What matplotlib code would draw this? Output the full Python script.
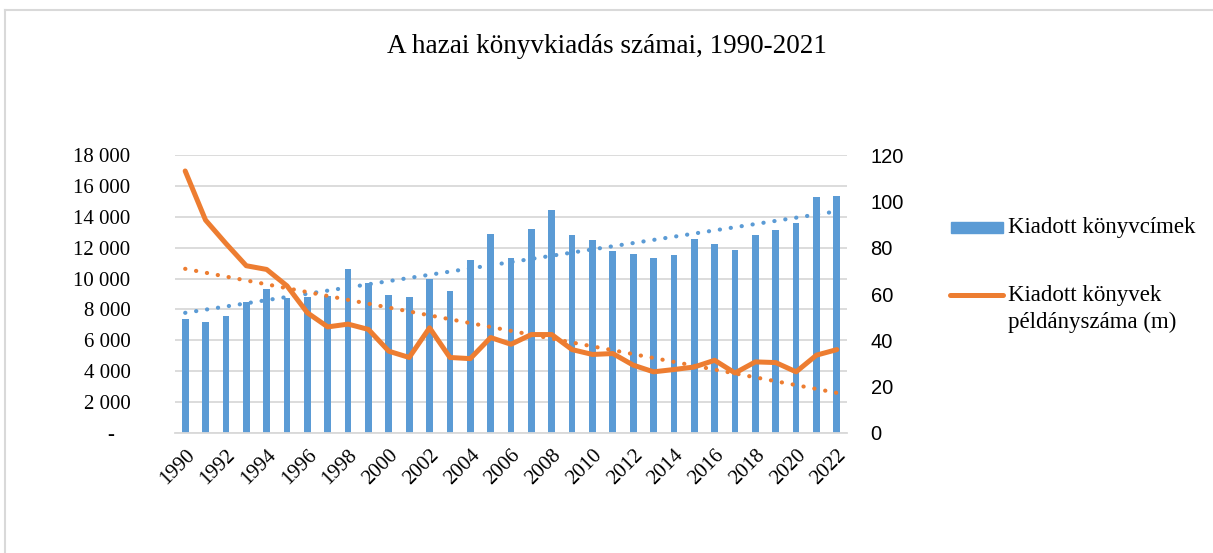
import numpy as np
import matplotlib
matplotlib.use('Agg')
import matplotlib.pyplot as plt
from matplotlib.lines import Line2D
from matplotlib.patches import Rectangle
from matplotlib.ticker import FuncFormatter

years = list(range(1990, 2023))

# kiadott könyvcímek (db)
titles = [7400, 7200, 7600, 8450, 9350, 8750, 8800, 8900, 10600, 9700,
          8950, 8800, 9950, 9200, 11200, 12900, 11350, 13200, 14450, 12800,
          12500, 11800, 11600, 11350, 11550, 12550, 12250, 11850, 12850, 13150,
          13600, 15250, 15350]

# kiadott példányszám (millió)
copies = [113.1, 91.9, 81.8, 72.2, 70.6, 63.5, 51.9, 45.8, 47.0, 44.7,
          35.3, 32.6, 45.4, 32.6, 32.1, 41.2, 38.3, 42.5, 42.5, 36.0,
          33.9, 34.3, 29.3, 26.4, 27.4, 28.5, 31.4, 25.9, 30.7, 30.4,
          26.4, 33.6, 36.0]

blue = '#5b9bd5'
orange = '#ed7d31'
serif = ['Liberation Serif', 'DejaVu Serif']
sans = ['Liberation Sans', 'DejaVu Sans']

fig = plt.figure(figsize=(12.13, 5.53), dpi=100)
ax = fig.add_axes([175/1213, 1-433/553, (847-175)/1213, (433-155)/553])
ax2 = ax.twinx()

x = np.arange(len(years))
ax.bar(x, titles, width=0.33, color=blue, zorder=2)

# linear trendlines
k1 = np.polyfit(x, titles, 1)
ax.plot(x, np.polyval(k1, x), color=blue, lw=3.0, linestyle=(0, (0.05, 2.6)),
        dash_capstyle='round', zorder=3)
k2 = np.polyfit(x, copies, 1)
ax2.plot(x, np.polyval(k2, x), color=orange, lw=3.0, linestyle=(0, (0.05, 2.6)),
         dash_capstyle='round', zorder=3)
ax2.plot(x, copies, color=orange, lw=3.6, solid_capstyle='round',
         solid_joinstyle='round', zorder=4)

ax.set_xlim(-0.5, len(years) - 0.5)
ax.set_ylim(0, 18000)
ax2.set_ylim(0, 120)
ax.set_yticks(range(0, 18001, 2000))
ax2.set_yticks(range(0, 121, 20))
ax.yaxis.set_major_formatter(FuncFormatter(
    lambda v, p: '-   ' if v == 0 else f'{int(v):,}'.replace(',', ' ')))

ax.grid(axis='y', color='#d9d9d9', lw=1.3, zorder=0)
ax.set_axisbelow(True)
for a in (ax, ax2):
    for s in a.spines.values():
        s.set_visible(False)
ax.spines['bottom'].set_visible(True)
ax.spines['bottom'].set_color('#d9d9d9')
ax.spines['bottom'].set_linewidth(1.3)

ax.set_xticks(x[::2])
ax.set_xticklabels([str(y) for y in years[::2]], rotation=45, ha='right',
                   va='top', rotation_mode='anchor', fontfamily=serif, fontsize=15)
ax.tick_params(axis='x', length=0, pad=9)
ax.tick_params(axis='y', length=0, pad=32, labelsize=15)
for t in ax.get_yticklabels():
    t.set_fontfamily(serif)
ax2.tick_params(axis='y', length=0, pad=17, labelsize=14.5)
for t in ax2.get_yticklabels():
    t.set_fontfamily(sans)

fig.text(0.5, 1-47/553, 'A hazai könyvkiadás számai, 1990-2021', ha='center',
         va='center', fontsize=19.5, family=serif)

# legend
fig.add_artist(Rectangle((951/1213, 1-233/553), 52/1213, 11/553,
                         transform=fig.transFigure, color=blue))
fig.add_artist(Line2D([950/1213, 1003/1213], [1-295/553, 1-295/553],
                      transform=fig.transFigure, color=orange, lw=3.6,
                      solid_capstyle='round'))
fig.text(1008/1213, 1-228/553, 'Kiadott könyvcímek', ha='left', va='center',
         fontsize=16.5, family=serif)
fig.text(1008/1213, 1-295/553, 'Kiadott könyvek', ha='left', va='center',
         fontsize=16.5, family=serif)
fig.text(1008/1213, 1-322/553, 'példányszáma (m)', ha='left', va='center',
         fontsize=16.5, family=serif)

# chart frame
fig.add_artist(Line2D([5/1213, 1], [1-10/553, 1-10/553], transform=fig.transFigure,
                      color='#d9d9d9', lw=1.5))
fig.add_artist(Line2D([5/1213, 5/1213], [0, 1-10/553], transform=fig.transFigure,
                      color='#d9d9d9', lw=1.5))

fig.savefig('out.png', dpi=100)
